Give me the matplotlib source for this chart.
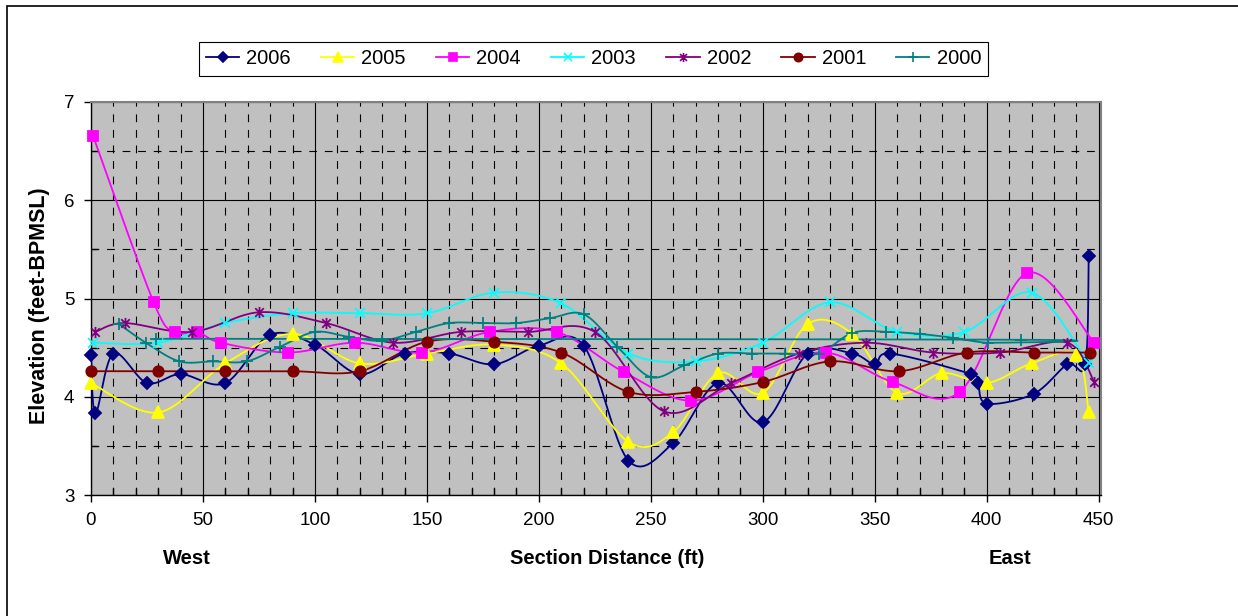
import numpy as np
import matplotlib.pyplot as plt
from matplotlib.path import Path
from matplotlib.lines import Line2D
from matplotlib.patches import Rectangle

plt.rcParams['font.family'] = ['Liberation Sans', 'DejaVu Sans']

# survey data per year: section distance (ft) and elevation (feet-BPMSL)
x2006 = [0, 2, 10, 25, 40, 60, 80, 100, 120, 140, 160, 180, 200, 220, 240, 260, 280,
         300, 320, 340, 350, 357, 393, 396, 400, 421, 436, 444, 445.5]
y2006 = [4.43, 3.83, 4.44, 4.14, 4.23, 4.14, 4.63, 4.53, 4.23, 4.44, 4.44, 4.33, 4.52,
         4.52, 3.35, 3.53, 4.14, 3.74, 4.44, 4.44, 4.33, 4.44, 4.23, 4.14, 3.93, 4.03,
         4.33, 4.33, 5.43]
x2005 = [0, 30, 60, 90, 120, 150, 180, 210, 240, 260, 280, 300, 320, 340, 360, 380,
         400, 420, 440, 445.5]
y2005 = [4.14, 3.84, 4.34, 4.64, 4.34, 4.44, 4.53, 4.34, 3.54, 3.64, 4.24, 4.04, 4.74,
         4.64, 4.04, 4.24, 4.14, 4.34, 4.43, 3.84]
x2004 = [1, 28, 37.5, 47.5, 58, 88, 118, 148, 178, 208, 238, 268, 298, 328, 358, 388,
         418, 448]
y2004 = [6.65, 4.96, 4.66, 4.66, 4.55, 4.45, 4.55, 4.45, 4.66, 4.66, 4.25, 3.96, 4.25,
         4.45, 4.15, 4.05, 5.26, 4.55]
x2003 = [1, 30, 60, 90, 120, 150, 180, 210, 240, 270, 300, 330, 360, 390, 420, 445.5]
y2003 = [4.55, 4.55, 4.75, 4.85, 4.85, 4.85, 5.06, 4.95, 4.44, 4.36, 4.55, 4.96, 4.66,
         4.66, 5.06, 4.34]
x2002 = [2, 15, 45, 75, 105, 135, 165, 195, 225, 256, 286, 316, 346, 376, 406, 436, 448]
y2002 = [4.66, 4.75, 4.66, 4.86, 4.75, 4.55, 4.66, 4.66, 4.66, 3.85, 4.14, 4.44, 4.55,
         4.45, 4.45, 4.55, 4.15]
x2001 = [0, 30, 60, 90, 120, 150, 180, 210, 240, 270, 300, 330, 361, 391, 421, 446]
y2001 = [4.26, 4.26, 4.26, 4.26, 4.26, 4.56, 4.56, 4.45, 4.05, 4.05, 4.15, 4.36, 4.26,
         4.45, 4.45, 4.45]
x2000 = [12.5, 24.5, 39.5, 54.5, 69.5, 84.5, 100, 115, 130, 145, 160, 175, 190, 205,
         220, 235, 250, 265, 280, 295, 310, 325, 340, 355, 370, 385, 400.5, 415.5, 29]
y2000 = [4.74, 4.55, 4.36, 4.36, 4.36, 4.51, 4.66, 4.61, 4.57, 4.66, 4.75, 4.75, 4.75,
         4.8, 4.84, 4.51, 4.2, 4.32, 4.44, 4.44, 4.44, 4.44, 4.65, 4.66, 4.64, 4.6,
         4.55, 4.58, 4.59]

years = ['2006', '2005', '2004', '2003', '2002', '2001', '2000']
xs = [x2006, x2005, x2004, x2003, x2002, x2001, x2000]
ys = [y2006, y2005, y2004, y2003, y2002, y2001, y2000]
colors = ['#000080', '#FFFF00', '#FF00FF', '#00FFFF', '#800080', '#800000', '#008080']

# asterisk marker: an x with a vertical bar through it
star = Path([(-1, -1), (1, 1), (-1, 1), (1, -1), (0, -1.3), (0, 1.3)],
            [Path.MOVETO, Path.LINETO] * 3)
markers = ['D', '^', 's', 'x', star, 'o', '+']
msizes = [6.5, 8.5, 7.5, 7.5, 8, 7.5, 8.5]


def smooth(ax, x, y, n=24):
    # bezier smoothing in screen space, like a spreadsheet "smoothed line"
    p = ax.transData.transform(np.column_stack([x, y]))
    out = [p[0]]
    t = np.linspace(0, 1, n)[1:, None]
    for i in range(len(p) - 1):
        p0 = p[i - 1] if i > 0 else p[i]
        p1, p2 = p[i], p[i + 1]
        p3 = p[i + 2] if i + 2 < len(p) else p[i + 1]
        c1 = p1 + (p2 - p0) / 6
        c2 = p2 - (p3 - p1) / 6
        seg = (1 - t) ** 3 * p1 + 3 * (1 - t) ** 2 * t * c1 + 3 * (1 - t) * t ** 2 * c2 + t ** 3 * p2
        out.extend(seg)
    return ax.transData.inverted().transform(np.array(out))


W, H = 1238, 616
fig = plt.figure(figsize=(W / 100, H / 100), dpi=100)
ax = fig.add_axes([91 / W, 1 - 495 / H, 1010 / W, 393 / H])
ax.set_facecolor('#C0C0C0')
ax.set_xlim(0, 451)
ax.set_ylim(3, 7)

ax.set_xticks(np.arange(0, 451, 50))
ax.set_xticks(np.arange(0, 451, 10), minor=True)
ax.set_yticks(np.arange(3, 7.1, 1))
ax.set_yticks(np.arange(3, 7.1, 0.5), minor=True)
ax.grid(which='major', color='black', linewidth=0.8)
ax.grid(which='minor', color='black', linewidth=0.8, dashes=(7, 7))
ax.set_axisbelow(True)

ax.tick_params(which='major', direction='out', length=5, width=1, labelsize=13.5, pad=7,
               colors='black')
ax.tick_params(which='minor', direction='in', length=5, width=1)
for s in ['left', 'bottom']:
    ax.spines[s].set_color('black')
    ax.spines[s].set_linewidth(1)
for s in ['top', 'right']:
    ax.spines[s].set_color('#808080')
    ax.spines[s].set_linewidth(1.5)

handles = []
for yr, x, y, c, m, ms in zip(years, xs, ys, colors, markers, msizes):
    sm = smooth(ax, x, y)
    ax.plot(sm[:, 0], sm[:, 1], color=c, linewidth=1.3, zorder=3)
    ax.plot(x, y, linestyle='none', marker=m, markersize=ms, color=c,
            markeredgecolor=c, markeredgewidth=1.3, zorder=4, clip_on=False)
    handles.append(Line2D([], [], color=c, linewidth=1.3, marker=m, markersize=ms - 1.5,
                          markeredgecolor=c, markeredgewidth=1.2))

leg = fig.legend(handles, years, loc='center', bbox_to_anchor=(593.5 / W, 1 - 59 / H),
                 ncol=7, fontsize=14.5, frameon=True, fancybox=False, framealpha=1,
                 edgecolor='black', handlelength=1.65, handletextpad=0.35,
                 columnspacing=1.5, borderpad=0.35, borderaxespad=0)
leg.get_frame().set_linewidth(0.8)

fig.text(40 / W, 1 - 306 / H, 'Elevation (feet-BPMSL)', rotation=90, fontsize=15.5,
         fontweight='bold', ha='center', va='center')
fig.text(607 / W, 1 - 558 / H, 'Section Distance (ft)', fontsize=14.5, fontweight='bold',
         ha='center', va='center')
fig.text(187 / W, 1 - 558 / H, 'West', fontsize=14.5, fontweight='bold', ha='center', va='center')
fig.text(1010 / W, 1 - 558 / H, 'East', fontsize=14.5, fontweight='bold', ha='center', va='center')

# outer chart frame (right and bottom edges run off the image)
fig.add_artist(Rectangle((7 / W, -0.1), 1.2, 1.1 - 6 / H, transform=fig.transFigure,
                         fill=False, edgecolor='black', linewidth=1.2))

fig.savefig('out.png', dpi=100)
